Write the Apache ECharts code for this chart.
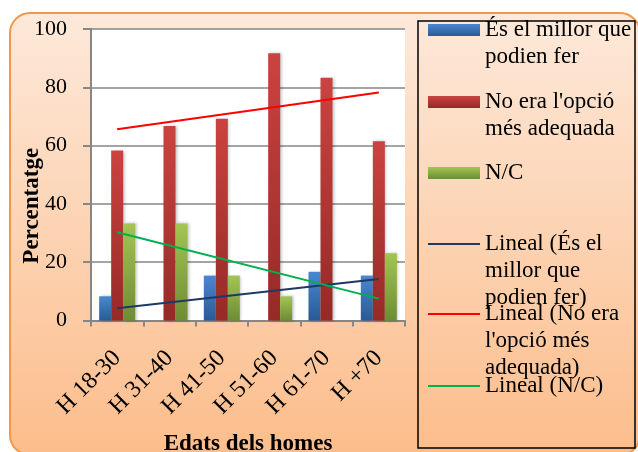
<!DOCTYPE html>
<html><head><meta charset="utf-8">
<script src="https://cdn.jsdelivr.net/npm/echarts@6/dist/echarts.min.js"></script>
<style>html,body{margin:0;padding:0;background:#fff}#c{width:638px;height:452px}</style>
</head><body><div id="c"></div>
<script>
const categories = ['H 18-30', 'H 31-40', 'H 41-50', 'H 51-60', 'H 61-70', 'H +70'];
const millor = [8.3, 0, 15.4, 0, 16.7, 15.4];
const noOpcio = [58.3, 66.7, 69.2, 91.7, 83.3, 61.5];
const nc = [33.3, 33.3, 15.4, 8.3, 0, 23.1];
// trend line end points (first and last category)
const trendMillor = [4.2, null, null, null, null, 14.2];
const trendNoOpcio = [65.6, null, null, null, null, 78.2];
const trendNC = [30.3, null, null, null, null, 7.5];
const yMin = 0, yMax = 100, yStep = 20;
const seriesNames = [
  'És el millor que podien fer',
  "No era l'opció més adequada",
  'N/C',
  'Lineal (És el millor que podien fer)',
  "Lineal (No era l'opció més adequada)",
  'Lineal (N/C)'
];
const legendLabels = [
  'És el millor que\npodien fer',
  "No era l'opció\nmés adequada",
  'N/C',
  'Lineal (És el\nmillor que\npodien fer)',
  "Lineal (No era\nl'opció més\nadequada)",
  'Lineal (N/C)'
];
const xTitle = 'Edats dels homes';
const yTitle = 'Percentatge';

const FONT = '"Liberation Serif", "DejaVu Serif", serif';
const LH = 27;
const iconCenters = [30, 102, 173, 244, 314, 386];

function grad(top, bottom, o0, o1) {
  return { type: 'linear', x: 0, y: 0, x2: 0, y2: 1,
    colorStops: [{ offset: o0 || 0, color: top }, { offset: o1 === undefined ? 1 : o1, color: bottom }] };
}
const barTop = ['#4a87d2', '#cb4340', '#a3c552'];
const barBottom = ['#2a5a95', '#952a27', '#6e8c34'];
const lineColors = ['#1f3864', '#ff0000', '#00b050'];
const barData = [millor, noOpcio, nc];
const trendData = [trendMillor, trendNoOpcio, trendNC];

const series = [];
for (let i = 0; i < 3; i++) {
  series.push({
    name: seriesNames[i], type: 'bar', data: barData[i],
    barWidth: 12, barGap: '0%',
    itemStyle: { color: grad(barTop[i], barBottom[i]), shadowBlur: 3, shadowColor: 'rgba(0,0,0,0.25)', shadowOffsetX: 1.5 }
  });
}
for (let i = 0; i < 3; i++) {
  series.push({
    name: seriesNames[3 + i], type: 'line', data: trendData[i],
    connectNulls: true, symbol: 'none', z: 5,
    lineStyle: { color: lineColors[i], width: 2 }, itemStyle: { color: lineColors[i] }
  });
}

// legend icon: a band at the height of the first text line inside an item as tall as the text block
function iconPath(h, bandH) {
  const y0 = LH / 2 - bandH / 2, y1 = LH / 2 + bandH / 2;
  return 'path://M0,0 L0.01,0 Z M0,' + y0 + ' L52,' + y0 + ' L52,' + y1 + ' L0,' + y1 + ' Z M0,' + h + ' L0.01,' + h + ' Z';
}
const legends = seriesNames.map((n, i) => {
  const lines = legendLabels[i].split('\n').length;
  const h = lines * LH;
  const isBar = i < 3;
  const bandH = isBar ? 12 : 2;
  const color = isBar
    ? grad(barTop[i], barBottom[i], (LH / 2 - 6) / h, (LH / 2 + 6) / h)
    : lineColors[i - 3];
  return {
    show: true, data: [n], left: 428, top: iconCenters[i] - LH / 2,
    orient: 'vertical', padding: 0, itemWidth: 52, itemHeight: h,
    icon: iconPath(h, bandH),
    itemStyle: { color: color, shadowBlur: 0, borderWidth: 0 },
    selectedMode: false,
    formatter: () => legendLabels[i],
    textStyle: { fontFamily: FONT, fontSize: 23, lineHeight: LH, color: '#000' }
  };
});

const chart = echarts.init(document.getElementById('c'), null, { renderer: 'canvas' });
chart.setOption({
  animation: false,
  backgroundColor: '#fff',
  graphic: [
    { type: 'rect', z: -10, shape: { x: 10, y: 13, width: 630, height: 442, r: 20 },
      style: { fill: grad('#fde9da', '#fcbd8b'), stroke: '#f79646', lineWidth: 2 } },
    { type: 'rect', z: -5, shape: { x: 418, y: 21, width: 217, height: 427 },
      style: { fill: 'none', stroke: '#000', lineWidth: 1.5 } }
  ],
  legend: legends,
  grid: { left: 91, top: 29, width: 314, height: 291.5, show: true, backgroundColor: '#fff', borderWidth: 0, outerBoundsMode: 'none' },
  xAxis: {
    type: 'category', data: categories, boundaryGap: true,
    axisLine: { lineStyle: { color: '#868686', width: 2 } },
    axisTick: { show: true, length: 6, alignWithLabel: false, lineStyle: { color: '#868686', width: 2 } },
    axisLabel: { rotate: 45, margin: 34, interval: 0, fontFamily: FONT, fontSize: 24, color: '#000' },
    name: xTitle, nameLocation: 'middle', nameGap: 112, nameMoveOverlap: false,
    nameTextStyle: { fontFamily: FONT, fontWeight: 'bold', fontSize: 23, color: '#000' }
  },
  yAxis: {
    type: 'value', min: yMin, max: yMax, interval: yStep,
    axisLine: { show: true, lineStyle: { color: '#868686', width: 2 } },
    axisTick: { show: true, length: 8, lineStyle: { color: '#868686', width: 2 } },
    splitLine: { lineStyle: { color: '#868686', width: 1.5 } },
    axisLabel: { margin: 24, fontFamily: FONT, fontSize: 22, color: '#000' },
    name: yTitle, nameLocation: 'middle', nameGap: 47, nameMoveOverlap: false,
    nameTextStyle: { fontFamily: FONT, fontWeight: 'bold', fontSize: 23, color: '#000', padding: [0, 62, 0, 0] }
  },
  series: series
});
</script></body></html>
